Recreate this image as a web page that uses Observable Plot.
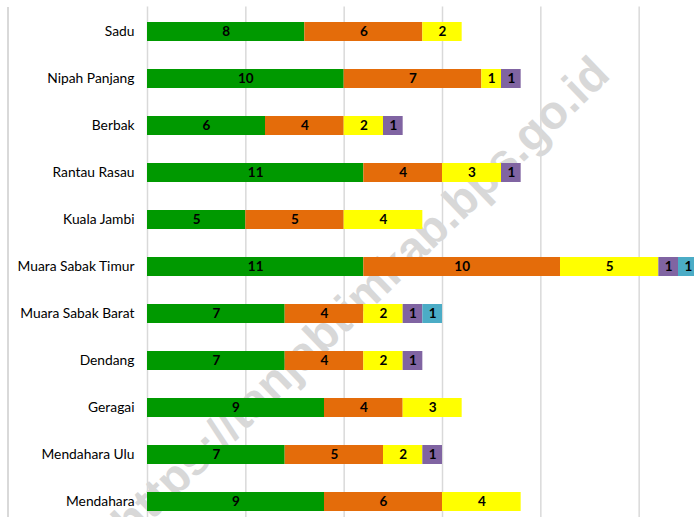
<!DOCTYPE html>
<html>
<head>
<meta charset="utf-8">
<script src="https://cdn.jsdelivr.net/npm/d3@7"></script>
<script src="https://cdn.jsdelivr.net/npm/@observablehq/plot@0.6"></script>
<style>
  html, body { margin: 0; padding: 0; background: #fff; overflow: hidden; }
  #wrap { position: relative; width: 694px; height: 517px; overflow: hidden; }
  #wm { position: absolute; left: 360px; top: 297px; transform: translate(-50%, -50%) rotate(-44deg);
        font-family: "Liberation Sans", Arial, sans-serif; font-weight: bold; font-size: 47px;
        color: #d8d8d8; white-space: nowrap; z-index: 0; }
  #frame { position: absolute; left: 7px; top: 7px; width: 1.5px; height: 520px; background: #d9d9d9; z-index: 1; }
  #chart { position: absolute; left: 0; top: 0; width: 737px; z-index: 2; }
  #chart svg { background: transparent !important; max-width: none !important; }
</style>
</head>
<body>
<div id="wrap">
  <div id="wm">https://tanjabtimkab.bps.go.id</div>
  <div id="frame"></div>
  <div id="chart"></div>
</div>
<script>
const categories = ["Sadu", "Nipah Panjang", "Berbak", "Rantau Rasau", "Kuala Jambi", "Muara Sabak Timur", "Muara Sabak Barat", "Dendang", "Geragai", "Mendahara Ulu", "Mendahara"];
const seriesNames = ["Seri 1", "Seri 2", "Seri 3", "Seri 4", "Seri 5"];
const seriesColors = ["#009900", "#E46C0A", "#FFFF00", "#8064A2", "#4BACC6"];
const series1 = [8, 10, 6, 11, 5, 11, 7, 7, 9, 7, 9];
const series2 = [6, 7, 4, 4, 5, 10, 4, 4, 4, 5, 6];
const series3 = [2, 1, 2, 3, 4, 5, 2, 2, 3, 2, 4];
const series4 = [0, 1, 1, 1, 0, 1, 1, 1, 0, 1, 0];
const series5 = [0, 0, 0, 0, 0, 1, 1, 0, 0, 0, 0];
const xTicks = [0, 5, 10, 15, 20, 25, 30];

const allSeries = [series1, series2, series3, series4, series5];
const data = [];
allSeries.forEach((vals, si) => {
  vals.forEach((v, ci) => {
    if (v > 0) data.push({cat: categories[ci], series: seriesNames[si], value: v});
  });
});

const chart = Plot.plot({
  width: 737,
  height: 526,
  marginLeft: 147,
  marginRight: 0,
  marginTop: 6.4,
  marginBottom: 0,
  style: {fontFamily: "Lato, 'Liberation Sans', sans-serif", fontSize: "13.8px", color: "#000", background: "transparent", maxWidth: "none"},
  x: {domain: [0, 30], axis: null},
  y: {domain: categories, paddingInner: 0.6, paddingOuter: 0.3, label: null, tickSize: 0, tickPadding: 13},
  color: {domain: seriesNames, range: seriesColors},
  marks: [
    Plot.ruleX(xTicks, {stroke: "#d9d9d9", strokeWidth: 1.5}),
    Plot.barX(data, Plot.stackX({x: "value", y: "cat", z: "series", fill: "series", order: null})),
    Plot.text(data, Plot.stackX({x: "value", y: "cat", z: "series", text: d => String(d.value), order: null,
      fill: "#000", fontWeight: "bold", fontSize: 13.5, fontFamily: "Lato, 'Liberation Sans', sans-serif"}))
  ]
});
document.getElementById("chart").appendChild(chart);
</script>
</body>
</html>
